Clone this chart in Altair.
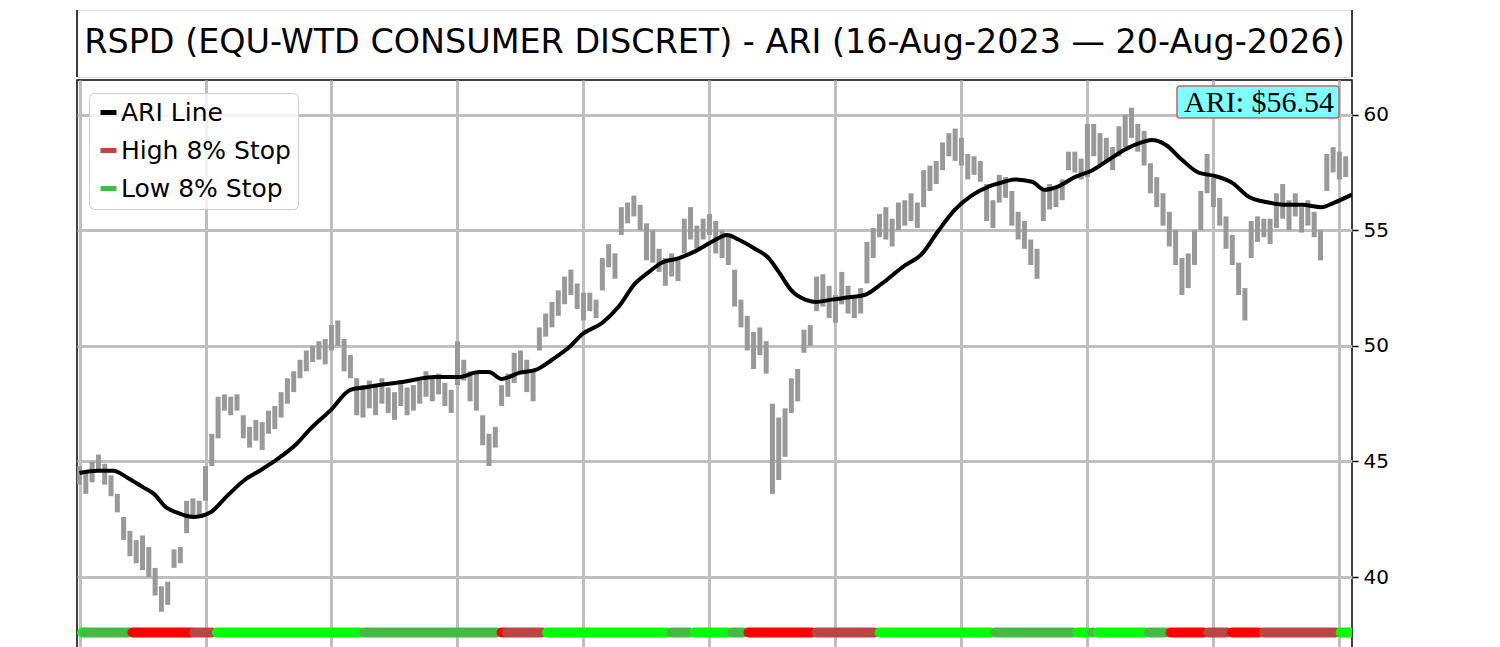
import altair as alt
import pandas as pd

TITLE = "RSPD (EQU-WTD CONSUMER DISCRET) - ARI (16-Aug-2023 \u2014 20-Aug-2026)"

# price bars (trading-day index, low, high)
BAR_DAY = list(range(0, 1010, 5))
BAR_LOW = [44.0,43.6,44.1,44.6,44.0,43.5,42.8,41.6,40.9,40.6,
           40.3,40.0,39.2,38.5,38.8,40.4,40.6,41.9,42.6,42.7,
           43.3,44.8,46.0,47.2,47.0,47.2,46.0,45.6,45.9,45.5,
           46.2,46.4,46.9,47.5,48.0,48.6,48.9,49.3,49.4,49.2,
           49.8,50.0,48.9,48.6,47.0,46.9,47.3,47.0,47.5,47.1,
           46.8,47.4,47.0,47.2,47.5,47.8,47.6,47.9,47.4,47.1,
           48.3,48.5,47.6,47.2,45.7,44.8,45.6,47.4,47.8,48.4,
           48.9,48.0,47.6,49.8,50.4,50.8,51.3,51.8,52.2,51.6,
           51.1,51.5,51.2,52.4,53.4,52.9,54.8,55.3,55.6,55.0,
           53.7,53.6,53.2,52.6,53.0,52.8,54.0,54.6,54.2,54.6,
           54.8,54.0,53.8,53.5,51.7,50.8,49.8,49.0,49.6,48.8,
           43.6,44.2,45.2,47.1,47.6,49.7,50.0,51.5,51.7,51.2,
           51.0,51.8,51.4,51.2,51.4,52.7,53.8,54.7,54.6,54.3,
           55.0,55.2,55.4,55.1,56.0,56.7,57.0,57.6,58.2,58.0,
           57.8,57.2,57.4,57.1,55.4,55.1,56.2,56.4,55.2,54.6,
           54.2,53.5,52.9,55.4,55.9,56.0,56.3,57.6,57.5,57.2,
           57.3,58.2,57.8,58.0,57.6,58.2,58.6,59.0,58.4,57.8,
           56.6,56.0,55.2,54.3,53.5,52.2,52.5,53.5,55.0,56.6,
           56.0,55.2,54.2,53.5,52.2,51.1,53.8,54.5,54.7,54.4,
           55.1,55.5,55.0,55.6,54.9,55.2,54.7,53.7,56.7,57.5,
           57.2,57.3]
BAR_HIGH = [44.8,44.5,45.0,45.3,44.9,44.4,43.6,42.6,42.0,41.6,
            41.8,41.3,40.4,39.6,39.8,41.2,41.3,43.3,43.4,43.3,
            44.8,46.2,47.8,47.9,47.8,47.9,47.0,46.5,46.8,46.7,
            47.2,47.4,48.0,48.6,48.9,49.4,49.8,50.0,50.2,50.3,
            50.9,51.1,50.3,49.6,48.6,48.3,48.5,48.3,48.6,48.2,
            48.0,48.4,48.2,48.3,48.5,48.9,48.7,48.8,48.4,48.1,
            50.2,49.4,48.9,48.8,47.0,46.2,46.5,48.3,48.8,49.7,
            49.8,49.4,48.9,50.8,51.4,51.9,52.4,53.0,53.3,52.7,
            52.3,52.3,52.0,53.8,54.4,54.0,56.0,56.2,56.5,56.1,
            55.3,55.0,54.2,53.8,54.0,53.7,55.5,56.0,55.2,55.5,
            55.7,55.4,55.0,54.8,53.3,52.0,51.3,50.6,50.8,50.2,
            47.5,46.9,47.3,48.6,49.0,50.7,50.9,53.0,53.1,52.6,
            52.2,53.2,52.6,52.2,52.5,54.5,55.1,55.7,56.0,55.5,
            56.2,56.3,56.6,56.2,57.6,57.8,58.0,58.8,59.2,59.4,
            59.0,58.3,58.2,58.0,57.0,56.3,57.4,57.3,56.7,55.8,
            55.4,54.6,54.2,56.8,57.0,56.9,57.2,58.4,58.4,58.1,
            59.6,59.6,59.2,59.0,58.6,59.5,60.0,60.3,59.6,59.3,
            57.9,57.3,56.6,55.8,55.0,53.8,54.0,55.0,56.7,58.3,
            57.3,56.4,55.6,54.8,53.6,52.5,55.4,55.6,55.5,55.5,
            56.6,57.0,56.3,56.6,56.0,56.3,55.8,55.0,58.3,58.6,
            58.4,58.2]

# ARI line
ARI_DAY = [0,14,27,38,50,59,69,77,91,104,
           117,131,143,157,173,183,199,215,226,256,
           282,301,317,325,335,349,362,375,389,399,
           415,428,441,452,462,476,489,502,514,523,
           536,547,555,565,576,584,597,611,623,637,
           653,669,682,695,708,722,734,742,756,766,
           777,790,804,817,830,843,851,862,875,888,
           901,915,928,944,957,970,986,996,1010]
ARI_VAL = [44.5,44.6,44.6,44.3,43.9,43.6,43.0,42.8,42.6,42.8,
           43.5,44.2,44.6,45.1,45.8,46.4,47.2,48.1,48.2,48.44,
           48.65,48.65,48.87,48.87,48.57,48.83,48.96,49.4,49.96,50.5,
           51.0,51.7,52.7,53.2,53.6,53.8,54.1,54.5,54.8,54.6,
           54.2,53.8,53.2,52.4,52.0,51.9,52.0,52.1,52.2,52.7,
           53.4,54.0,55.0,55.9,56.5,56.9,57.1,57.2,57.1,56.75,
           56.9,57.3,57.6,58.05,58.5,58.8,58.9,58.7,58.05,57.5,
           57.35,57.05,56.45,56.2,56.1,56.1,56.0,56.2,56.54]
LAST_ARI = 56.54

# stop state strip
STOP_START = [0,0,38,87,105,222,331,335,367,466,484,514,527,581,631,723,788,800,804,845,862,892,911,936,997]
STOP_END = [2,39,89,105,222,331,337,367,466,484,514,527,581,631,723,788,800,804,845,862,892,911,936,997,1010]
STOP_KIND = ["low_on","low","high_on","high","low_on","low","high_on","high","low_on","low",
             "low_on","low","high_on","high","low_on","low","low_on","low","low_on","low",
             "high_on","high","high_on","high","low_on"]
STRIP_LEVEL = 37.6

SERIES = ["ARI Line", "High 8% Stop", "Low 8% Stop"]
SERIES_COLORS = ["#000000", "#bb4444", "#44bb44"]
KINDS = ["low_on", "low", "high_on", "high"]
KIND_COLORS = ["#00ff00", "#44bb44", "#ff0000", "#bb4444"]

bars = pd.DataFrame({"day": BAR_DAY, "low": BAR_LOW, "high": BAR_HIGH})
ari = pd.DataFrame({"day": ARI_DAY, "ari": ARI_VAL, "series": ["ARI Line"] * len(ARI_DAY)})
stops = pd.DataFrame({"start": STOP_START, "end": STOP_END, "kind": STOP_KIND,
                      "level": [STRIP_LEVEL] * len(STOP_KIND)})
label_df = pd.DataFrame({"label": [f"ARI: ${LAST_ARI:.2f}"]})
title_df = pd.DataFrame({"title": [TITLE]})

W = 1275
H = 578
TH = 67

GRID = dict(grid=True, gridColor="#bfbfbf", gridWidth=3, gridOpacity=1)

xscale = alt.Scale(domain=[-2, 1010], nice=False, zero=False)
yscale = alt.Scale(domain=[36.5, 61.5], nice=False, zero=False)
xaxis = alt.Axis(values=list(range(0, 1001, 100)), labels=False, ticks=False,
                 domain=False, title=None, **GRID)
yaxis = alt.Axis(orient="right", values=[40, 45, 50, 55, 60], title=None,
                 labelFontSize=20, labelFont="DejaVu Sans", labelColor="black",
                 tickColor="black", tickSize=6, tickWidth=1.5, labelPadding=5,
                 domain=False, **GRID)

price = alt.Chart(bars).mark_rule(color="#999999", strokeWidth=5, clip=True).encode(
    x=alt.X("day:Q", scale=xscale, axis=xaxis),
    y=alt.Y("low:Q", scale=yscale, axis=yaxis),
    y2="high:Q",
)

strip = alt.Chart(stops).transform_calculate(
    x0="datum.start + 4"
).mark_rule(strokeWidth=10, strokeCap="round", clip=True).encode(
    x=alt.X("x0:Q", scale=xscale),
    x2="end:Q",
    y=alt.Y("level:Q", scale=yscale),
    color=alt.Color("kind:N", scale=alt.Scale(domain=KINDS, range=KIND_COLORS), legend=None),
)

ari_line = alt.Chart(ari).mark_line(strokeWidth=4, interpolate="monotone", clip=True).encode(
    x=alt.X("day:Q", scale=xscale),
    y=alt.Y("ari:Q", scale=yscale),
    color=alt.Color("series:N", scale=alt.Scale(domain=SERIES, range=SERIES_COLORS),
                    legend=alt.Legend(orient="none", legendX=12, legendY=13, title=None,
                                      labelFontSize=25, labelFont="DejaVu Sans",
                                      labelColor="black", symbolType="stroke",
                                      symbolStrokeWidth=5, symbolSize=256,
                                      fillColor="rgba(255,255,255,0.8)",
                                      strokeColor="#cccccc", cornerRadius=5,
                                      padding=7, rowPadding=12, labelOffset=0,
                                      labelLimit=400)),
)

box = alt.Chart(label_df).mark_rect(fill="#80ffff", stroke="#b86a6a", strokeWidth=1.5,
                                    cornerRadius=3).encode(
    x=alt.value(1100), x2=alt.value(1262), y=alt.value(6), y2=alt.value(38)
)
box_text = alt.Chart(label_df).mark_text(font="Liberation Serif", fontSize=30, color="black",
                                         align="center", baseline="middle").encode(
    x=alt.value(1182), y=alt.value(23), text="label:N"
)

main = alt.layer(price, strip, ari_line, box, box_text).resolve_scale(
    color="independent"
).properties(width=W, height=H, view=alt.ViewBackground(stroke="black", strokeWidth=1.5))

title_text = alt.Chart(title_df).mark_text(font="DejaVu Sans", fontSize=33.4, color="black",
                                           align="center", baseline="middle").encode(
    x=alt.value(W / 2), y=alt.value(33), text="title:N"
)
left_edge = alt.Chart(title_df).mark_rule(color="black", strokeWidth=1.5).encode(
    x=alt.value(0), y=alt.value(0), y2=alt.value(TH)
)
right_edge = alt.Chart(title_df).mark_rule(color="black", strokeWidth=1.5).encode(
    x=alt.value(W), y=alt.value(0), y2=alt.value(TH)
)
title_panel = alt.layer(left_edge, right_edge, title_text).properties(width=W, height=TH)

chart = alt.vconcat(title_panel, main, spacing=0).properties(
    padding={"left": 67, "top": 0, "right": 5, "bottom": 0}
).configure_view(strokeOpacity=0).configure(background="white")

chart.save("out.html", embed_options={"renderer": "svg", "actions": False})
